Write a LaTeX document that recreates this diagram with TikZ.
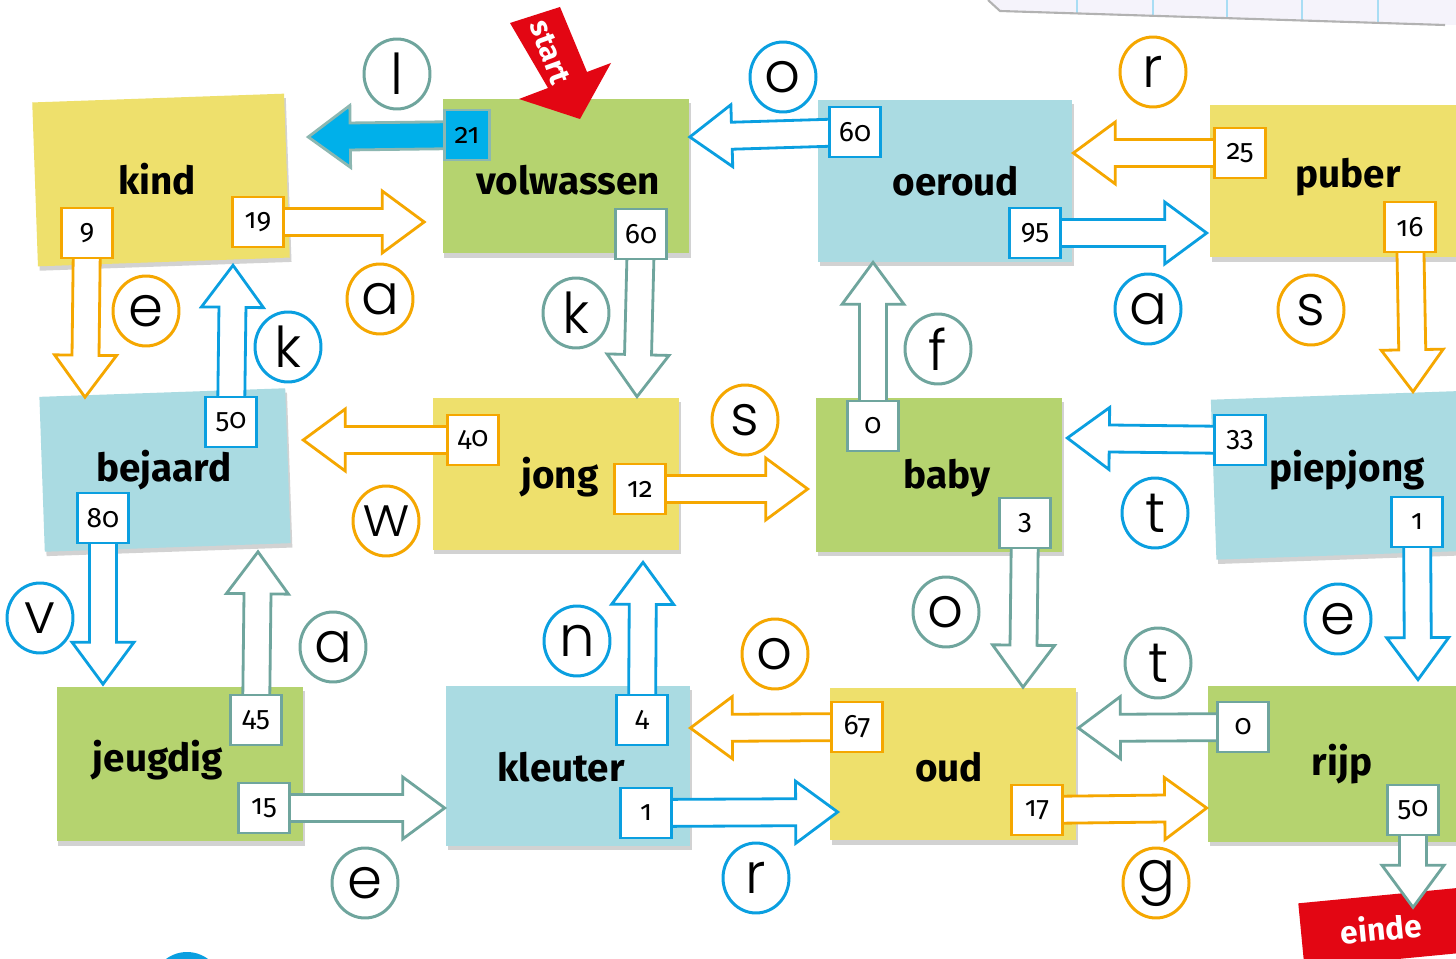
\documentclass[tikz,border=0pt]{standalone}
\usepackage{fontspec}
\setmainfont{Fira Sans}
\newfontfamily\handfont{Poppins}[UprightFont=* Light]
\newfontfamily\cijferfont{Fira Sans}[Numbers=OldStyle]
\usetikzlibrary{calc,shapes.geometric,shadows}

\definecolor{oranje}{HTML}{F5A700}
\definecolor{blauw}{HTML}{0A9FE0}
\definecolor{grijsgroen}{HTML}{6FA59D}
\definecolor{rood}{HTML}{E30613}
\definecolor{cyaan}{HTML}{00B0EA}
\definecolor{geelblad}{HTML}{EEE06C}
\definecolor{groenblad}{HTML}{B5D36F}
\definecolor{blauwblad}{HTML}{AADBE2}
\definecolor{papier}{HTML}{F5F3FB}

\pgfdeclarelayer{bladen}
\pgfdeclarelayer{pijlen}
\pgfsetlayers{bladen,pijlen,main}

\tikzset{
  blad/.style n args={3}{fill=#1, minimum width=#2, minimum height=#3, inner sep=0pt,
    drop shadow={shadow xshift=1pt, shadow yshift=-2.5pt, opacity=0.35}},
  woord/.style={anchor=base, inner sep=0pt, font=\fontsize{22}{22}\selectfont\bfseries},
  nummer/.style={draw=#1, fill=white, line width=1.6pt, minimum width=1.02cm,
    minimum height=1cm, inner sep=0pt, font=\cijferfont\fontsize{16}{16}\selectfont},
  pijlrand/.style={draw=#1, fill=white, line width=1.6pt, line join=miter},
  letter/.style={ellipse, draw=#1, fill=white, line width=1.7pt, minimum width=1.32cm,
    minimum height=1.4cm, inner sep=0pt, font=\handfont\fontsize{32}{32}\selectfont},
}

% block arrow from a number box to a tip
\newcommand\pijl[4][]{%
  \coordinate (#3-punt) at (#4);
  \coordinate (#3-kop) at ($(#3-punt)!0.84cm!(#3.center)$);
  \begin{pgfonlayer}{pijlen}
  \draw[pijlrand=#2,#1] ($(#3.center)!0.27cm!90:(#3-punt)$)
    -- ($(#3-kop)!0.27cm!90:(#3-punt)$) -- ($(#3-kop)!0.62cm!90:(#3-punt)$)
    -- (#3-punt)
    -- ($(#3-kop)!0.62cm!-90:(#3-punt)$) -- ($(#3-kop)!0.27cm!-90:(#3-punt)$)
    -- ($(#3.center)!0.27cm!-90:(#3-punt)$) -- cycle;
  \end{pgfonlayer}}

\begin{document}
\begin{tikzpicture}[x=0.02cm, y=-0.02cm]
\useasboundingbox (0,0) rectangle (1456,959);

\begin{pgfonlayer}{bladen}
\fill[white] (0,0) rectangle (1456,959);
% schrift bovenaan
\fill[papier] (988,0) -- (1000,11) -- (1445,25) -- (1456,25) -- (1456,0) -- cycle;
\foreach \x/\y in {1077/13.4, 1153/15.8, 1227/18.1, 1302/20.5, 1378/22.9}
  \draw[blauw!35, line width=0.8pt] (\x,0) -- (\x,\y);
\draw[black!30, line width=1.2pt] (988,0) -- (1000,11) -- (1445,25);
\fill[blauw] (187,987) circle (35);

\node[blad={geelblad}{5.04cm}{3.28cm}, rotate=2] (n-kind) at (161,180) {};
\node[blad={groenblad}{4.94cm}{3.1cm}] (n-volw) at (566,176) {};
\node[blad={blauwblad}{5.08cm}{3.24cm}] (n-oer) at (945,181) {};
\node[blad={geelblad}{5.52cm}{3.06cm}] (n-pub) at (1348,181) {};
\node[blad={blauwblad}{4.92cm}{3.1cm}, rotate=2] (n-bej) at (165,470) {};
\node[blad={geelblad}{4.94cm}{3.04cm}] (n-jong) at (556,474) {};
\node[blad={groenblad}{4.92cm}{3.08cm}] (n-baby) at (939,475) {};
\node[blad={blauwblad}{5.34cm}{3.2cm}, rotate=2] (n-piep) at (1347,475) {};
\node[blad={groenblad}{4.94cm}{3.1cm}] (n-jeug) at (180,764) {};
\node[blad={blauwblad}{4.88cm}{3.2cm}] (n-kleu) at (568,766) {};
\node[blad={geelblad}{4.92cm}{3.06cm}] (n-oud) at (953,764) {};
\node[blad={groenblad}{5.44cm}{3.12cm}] (n-rijp) at (1344,764) {};
\node[fill=rood, rotate=5.5, minimum width=3.2cm, minimum height=1.3cm, text=white,
  font=\fontsize{18}{18}\selectfont\bfseries] (einde) at (1381,928) {einde};
\end{pgfonlayer}

\node[woord] (w-kind) at (157,195) {kind};
\node[woord] (w-volw) at (568,195) {volwassen};
\node[woord] (w-oer) at (956,196) {oeroud};
\node[woord] (w-pub) at (1348,188) {puber};
\node[woord] (w-bej) at (164,481) {bejaard};
\node[woord] (w-jong) at (560,488) {jong};
\node[woord] (w-baby) at (947,488) {baby};
\node[woord] (w-piep) at (1347,481) {piepjong};
\node[woord] (w-jeug) at (158,771) {jeugdig};
\node[woord] (w-kleu) at (561,781) {kleuter};
\node[woord] (w-oud) at (949,781) {oud};
\node[woord] (w-rijp) at (1342,775) {rijp};

% pijlen met getallen
\node[nummer=oranje] (b19) at (258,222) {19};
\pijl{oranje}{b19}{$(b19.center -| n-volw.west)+(-18,0)$}
\node[nummer=oranje] (b9) at (87,233) {9};
\pijl{oranje}{b9}{$(b9.center |- n-bej.north)+(-2,5)$}
\node[nummer=blauw] (b50a) at (231,422) {50};
\pijl{blauw}{b50a}{$(b50a.center |- n-kind.south)+(2,3)$}
\node[nummer=grijsgroen!80, fill=cyaan, minimum width=0.9cm] (b21) at (467,135) {21};
\pijl[fill=cyaan]{grijsgroen!80}{b21}{$(b21.center -| n-kind.east)+(21,2)$}
\node[nummer=grijsgroen] (b60a) at (641,234) {60};
\pijl{grijsgroen}{b60a}{$(b60a.center |- n-jong.north)+(-4,-1)$}
\node[nummer=blauw] (b60b) at (855,132) {60};
\pijl{blauw}{b60b}{$(b60b.center -| n-volw.east)+(0,5)$}
\node[nummer=blauw] (b95) at (1035,233) {95};
\pijl{blauw}{b95}{$(b95.center -| n-pub.west)+(-3,0)$}
\node[nummer=oranje] (b25) at (1240,153) {25};
\pijl{oranje}{b25}{$(b25.center -| n-oer.east)+(1,0)$}
\node[nummer=oranje] (b16) at (1410,227) {16};
\pijl{oranje}{b16}{$(b16.center |- n-piep.north)+(3,-3)$}
\node[nummer=oranje] (b40) at (473,440) {40};
\pijl{oranje}{b40}{$(b40.center -| n-bej.east)+(15,0)$}
\node[nummer=oranje] (b12) at (640,489) {12};
\pijl{oranje}{b12}{$(b12.center -| n-baby.west)+(-8,0)$}
\node[nummer=grijsgroen] (b0a) at (873,426) {0};
\pijl{grijsgroen}{b0a}{$(b0a.center |- n-oer.south)+(0,0)$}
\node[nummer=blauw] (b33) at (1240,440) {33};
\pijl{blauw}{b33}{$(b33.center -| n-baby.east)+(5,-2)$}
\node[nummer=blauw] (b1a) at (1417,522) {1};
\pijl{blauw}{b1a}{$(b1a.center |- n-rijp.north)+(1,-6)$}
\node[nummer=grijsgroen] (b3) at (1025,523) {3};
\pijl{grijsgroen}{b3}{$(b3.center |- n-oud.north)+(-2,0)$}
\node[nummer=blauw] (b80) at (103,518) {80};
\pijl{blauw}{b80}{$(b80.center |- n-jeug.north)+(0,-2)$}
\node[nummer=grijsgroen] (b45) at (256,720) {45};
\pijl{grijsgroen}{b45}{$(b45.center |- n-bej.south)+(2,4)$}
\node[nummer=blauw] (b4) at (642,720) {4};
\pijl{blauw}{b4}{$(b4.center |- n-jong.south)+(1,12)$}
\node[nummer=grijsgroen] (b15) at (264,808) {15};
\pijl{grijsgroen}{b15}{$(b15.center -| n-kleu.west)+(-1,0)$}
\node[nummer=oranje] (b67) at (857,727) {67};
\pijl{oranje}{b67}{$(b67.center -| n-kleu.east)+(0,1)$}
\node[nummer=blauw] (b1b) at (646,813) {1};
\pijl{blauw}{b1b}{$(b1b.center -| n-oud.west)+(8,-1)$}
\node[nummer=grijsgroen] (b0b) at (1243,727) {0};
\pijl{grijsgroen}{b0b}{$(b0b.center -| n-oud.east)+(2,1)$}
\node[nummer=oranje] (b17) at (1037,810) {17};
\pijl{oranje}{b17}{$(b17.center -| n-rijp.west)+(-1,-2)$}
\node[nummer=grijsgroen] (b50b) at (1413,810) {50};
\pijl{grijsgroen}{b50b}{$(b50b.center |- einde.north)+(0,12)$}

% letters in rondjes
\node[letter=grijsgroen] (c-l) at (397,74) {l};
\node[letter=blauw] (c-o1) at (783,77) {o};
\node[letter=oranje] (c-r1) at (1153,72) {r};
\node[letter=oranje] (c-e1) at (146,311) {e};
\node[letter=blauw] (c-k1) at (288,347) {k};
\node[letter=oranje] (c-a1) at (380,299) {a};
\node[letter=grijsgroen] (c-k2) at (576,313) {k};
\node[letter=grijsgroen] (c-f) at (938,349) {f};
\node[letter=blauw] (c-a2) at (1148,309) {a};
\node[letter=oranje] (c-s1) at (1311,310) {s};
\node[letter=oranje] (c-s2) at (745,420) {s};
\node[letter=oranje] (c-w) at (386,521) {w};
\node[letter=blauw] (c-t1) at (1155,513) {t};
\node[letter=blauw] (c-v) at (40,618) {v};
\node[letter=grijsgroen] (c-a3) at (333,647) {a};
\node[letter=blauw] (c-n) at (577,641) {n};
\node[letter=grijsgroen] (c-o2) at (946,612) {o};
\node[letter=blauw] (c-e2) at (1338,619) {e};
\node[letter=oranje] (c-o3) at (775,654) {o};
\node[letter=grijsgroen] (c-t2) at (1158,663) {t};
\node[letter=grijsgroen] (c-e3) at (365,883) {e};
\node[letter=blauw] (c-r2) at (756,878) {r};
\node[letter=oranje] (c-g) at (1156,883) {g};

% start
\fill[rood] (510,23) -- (548,88) -- (519,99) -- (580,119) -- (611,63) -- (587,72) -- (560,7) -- cycle;
\node[rotate=-70, text=white, font=\fontsize{17}{17}\selectfont\bfseries] (start) at (550,52) {start};
\end{tikzpicture}
\end{document}
